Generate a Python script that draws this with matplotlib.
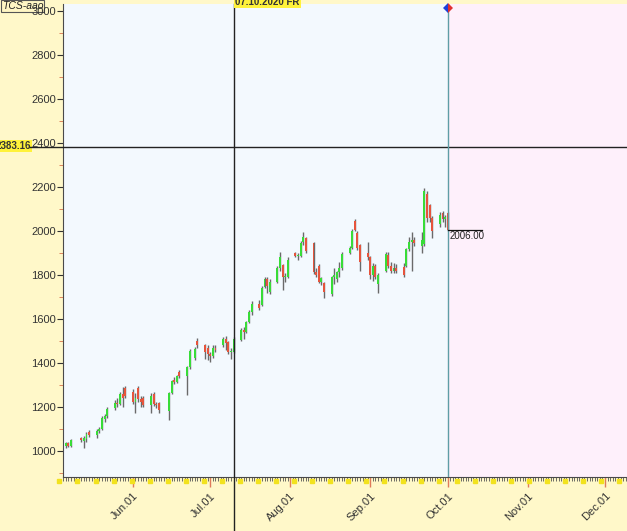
import matplotlib
matplotlib.use('Agg')
import numpy as np
import pandas as pd
import matplotlib.pyplot as plt
import matplotlib.dates as mdates

plt.rcParams['font.family'] = ['Liberation Sans', 'DejaVu Sans']

# trading days (MOEX holidays removed)
holidays = ['2020-05-11', '2020-06-12', '2020-06-24']
dates = pd.bdate_range('2020-05-06', '2020-10-01')
dates = dates[~dates.isin(pd.to_datetime(holidays))]

opens = [1025, 1035, 1025, 1060, 1045, 1055, 1085, 1075, 1090, 1100, 1145, 1160, 1195, 1220, 1215, 1260, 1285,
         1270, 1225, 1285, 1235, 1240, 1210, 1260, 1215, 1220, 1180, 1265, 1325, 1315, 1360, 1340, 1380, 1425, 1500, 1480, 1470,
         1440, 1430, 1470, 1480, 1510, 1495, 1450, 1450, 1505, 1550, 1540, 1585, 1630, 1670, 1665, 1745, 1780, 1725, 1770, 1830, 1845, 1790, 1790,
         1900, 1885, 1885, 1950, 1970, 1945, 1815, 1840, 1770, 1765, 1715, 1790, 1780, 1815, 1830, 1900, 1925, 2045, 1990, 1935, 1900,
         1880, 1800, 1840, 1760, 1820, 1890, 1840, 1820, 1830, 1835, 1840, 1920, 1950, 1960, 1930, 1940, 2170, 2120, 2060, 2030, 2080, 2055,
         2080]
highs = [1040, 1042, 1055, 1062, 1070, 1085, 1095, 1100, 1110, 1160, 1170, 1200, 1230, 1240, 1270, 1290, 1295,
         1280, 1265, 1295, 1250, 1250, 1265, 1270, 1225, 1225, 1270, 1325, 1335, 1345, 1370, 1385, 1465, 1475, 1515, 1485, 1480,
         1450, 1480, 1480, 1520, 1525, 1500, 1470, 1520, 1560, 1565, 1590, 1640, 1680, 1685, 1750, 1790, 1790, 1780, 1840, 1905, 1850, 1810, 1880,
         1905, 1900, 1955, 1995, 1975, 1950, 1830, 1850, 1790, 1770, 1795, 1830, 1820, 1860, 1905, 1930, 2010, 2055, 2000, 1940, 1950,
         1885, 1855, 1850, 1810, 1905, 1905, 1860, 1855, 1850, 1855, 1925, 1975, 1995, 1975, 1995, 2195, 2180, 2125, 2070, 2085, 2090, 2075,
         2085]
lows = [1015, 1020, 1020, 1040, 1015, 1040, 1065, 1060, 1080, 1095, 1130, 1150, 1185, 1200, 1210, 1200, 1240,
        1215, 1175, 1225, 1200, 1200, 1175, 1205, 1195, 1175, 1140, 1260, 1305, 1310, 1330, 1255, 1375, 1415, 1470, 1420, 1415,
        1405, 1425, 1450, 1475, 1460, 1440, 1420, 1445, 1500, 1510, 1535, 1580, 1620, 1640, 1660, 1740, 1720, 1715, 1765, 1820, 1730, 1770, 1785,
        1880, 1870, 1880, 1935, 1900, 1805, 1790, 1765, 1755, 1695, 1705, 1760, 1770, 1790, 1825, 1895, 1920, 2000, 1915, 1820, 1870,
        1780, 1775, 1780, 1720, 1815, 1830, 1810, 1810, 1810, 1790, 1835, 1910, 1820, 1930, 1900, 1930, 2040, 2040, 1970, 2020, 2040, 2020,
        2000]
closes = [1035, 1025, 1048, 1050, 1060, 1078, 1075, 1090, 1100, 1150, 1160, 1190, 1220, 1215, 1260, 1240, 1250,
          1225, 1240, 1235, 1225, 1210, 1250, 1215, 1210, 1185, 1265, 1320, 1315, 1340, 1340, 1380, 1455, 1465, 1480, 1450, 1440,
          1430, 1470, 1460, 1510, 1490, 1450, 1455, 1510, 1550, 1540, 1585, 1630, 1670, 1650, 1740, 1780, 1750, 1770, 1830, 1880, 1790, 1795, 1870,
          1885, 1890, 1945, 1975, 1910, 1815, 1800, 1770, 1785, 1725, 1790, 1800, 1815, 1830, 1895, 1925, 2000, 2005, 1925, 1860, 1880,
          1800, 1840, 1790, 1800, 1895, 1840, 1820, 1830, 1820, 1800, 1920, 1950, 1960, 1945, 1960, 2180, 2060, 2060, 2000, 2075, 2055, 2065,
          2006]

last_price = 2006.00
cross_price = 2383.16
cross_date = pd.Timestamp('2020-07-10')

o = np.array(opens, float)
h = np.array(highs, float)
l = np.array(lows, float)
c = np.array(closes, float)
x = mdates.date2num(dates)

fig = plt.figure(figsize=(6.27, 5.31), dpi=100, facecolor='#FFF8C9')
ax = fig.add_axes([63 / 627, 1 - 477 / 531, 564 / 627, 473 / 531])
ax.set_facecolor('#F3F9FE')

jun1 = mdates.date2num(pd.Timestamp('2020-06-01'))
x0, x1 = jun1 - 27.1, jun1 + 191.5
last_x = x[-1]
ax.axvspan(last_x, x1, color='#FEF0FB', zorder=0)

# candles
up = c >= o
ax.vlines(x, l, h, color='#6a6a6a', lw=1, zorder=2)
bot = np.minimum(o, c)
hgt = np.maximum(np.abs(c - o), 5)
ax.bar(x[up], hgt[up], bottom=bot[up], width=0.75, color='#38DC38', zorder=3)
ax.bar(x[~up], hgt[~up], bottom=bot[~up], width=0.75, color='#E6543C', zorder=3)

ax.set_xlim(x0, x1)
ax.set_ylim(882, 3032)

# axes styling
for s in ['top', 'right']:
    ax.spines[s].set_visible(False)
for s in ['left', 'bottom']:
    ax.spines[s].set_color('#4a4a4a')

ax.set_yticks(range(1000, 3001, 200))
ax.set_yticks(range(900, 3001, 100), minor=True)
ax.tick_params(axis='y', which='major', length=4, color='#333333', labelsize=8, labelcolor='#333333', pad=1)
ax.tick_params(axis='y', which='minor', length=3, color='#D8704C')

ax.xaxis.set_major_locator(mdates.MonthLocator())
ax.xaxis.set_major_formatter(mdates.DateFormatter('%b.%d'))
ax.xaxis.set_minor_locator(mdates.DayLocator())
ax.tick_params(axis='x', which='major', length=7, color='#E07A5A', width=1, labelsize=8, labelcolor='#333333', pad=3)
ax.tick_params(axis='x', which='minor', length=3, color='#555555', width=0.6)
for lab in ax.get_xticklabels():
    lab.set_rotation(45)
    lab.set_ha('right')
    lab.set_va('top')
    lab.set_rotation_mode('anchor')

# weekly yellow marks on the date strip
mondays = mdates.date2num(pd.date_range('2020-05-04', '2020-12-07', freq='W-MON')) - 0.5
ax.plot(mondays, np.full(len(mondays), -0.009), ls='none', marker='s', ms=3.2, color='#F2E21E',
        transform=ax.get_xaxis_transform(), clip_on=False, zorder=5)

# crosshair
cx = mdates.date2num(cross_date)
ax.axvline(cx, ymin=-0.12, ymax=1.0, color='#222222', lw=1, clip_on=False, zorder=4)
ax.axhline(cross_price, xmin=-0.059, xmax=1.0, color='#222222', lw=1, clip_on=False, zorder=4)
fig.text(31 / 627, 1 - 146 / 531, '%.2f' % cross_price, ha='right', va='center', fontsize=7, fontweight='bold',
         color='#333333', zorder=-1, bbox=dict(boxstyle='square,pad=0.15', fc='#FFF23A', ec='none'))
fig.text(235 / 627, 1 - 2 / 531, cross_date.strftime('%m.%d.%Y') + ' FR', ha='left', va='center', fontsize=7,
         fontweight='bold', color='#333333', bbox=dict(boxstyle='square,pad=0.15', fc='#FFF23A', ec='none'))

# last bar marker line
ax.axvline(last_x, color='#5E9EA6', lw=1, zorder=4)
ax.plot([last_x], [3013], marker='D', ms=5, fillstyle='left', markerfacecolor='#1E40D8',
        markerfacecoloralt='#E03030', markeredgewidth=0, zorder=6, clip_on=False)
ax.plot([last_x, last_x + 13.2], [last_price, last_price], color='#111111', lw=0.9, zorder=4)
ax.text(last_x + 0.6, last_price - 8, '%.2f' % last_price, ha='left', va='top', fontsize=7, color='#222222')

fig.text(0.003, 1 - 6 / 531, 'TCS-aao', ha='left', va='center', fontsize=7.5, style='italic', color='#222222',
         zorder=-1, bbox=dict(boxstyle='square,pad=0.1', fc='#FFF6C4', ec='#555555', lw=0.8))

fig.savefig('out.png', dpi=100, facecolor=fig.get_facecolor())
